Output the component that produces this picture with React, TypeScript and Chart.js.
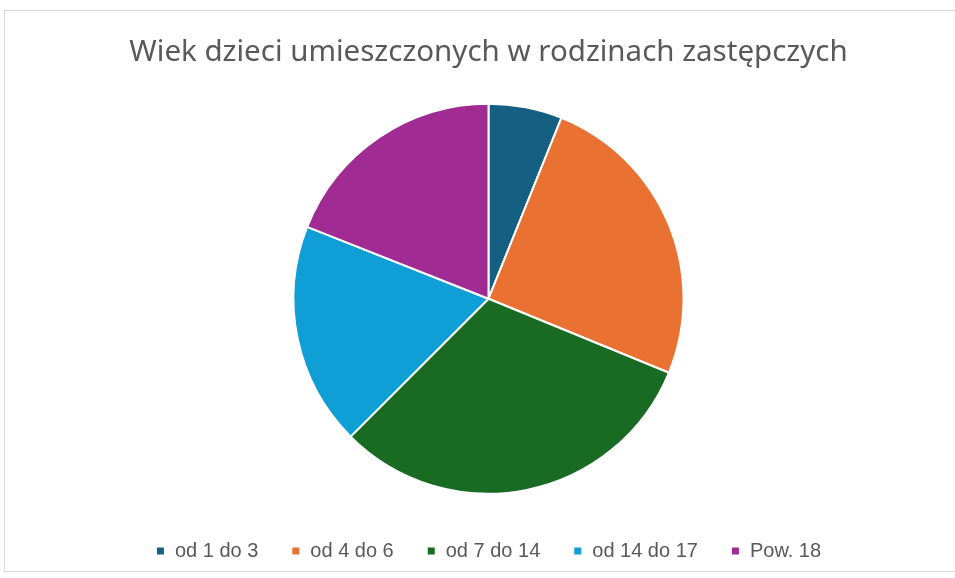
import React, { useEffect, useRef } from "react";
import { Chart, registerables } from "chart.js";

Chart.register(...registerables);

const chartTitle = "Wiek dzieci umieszczonych w rodzinach zastępczych";
const categories = ["od 1 do 3", "od 4 do 6", "od 7 do 14", "od 14 do 17", "Pow. 18"];
const values = [6.1, 25.1, 31.3, 18.5, 19.0];
const colors = ["#156082", "#E97132", "#196B24", "#0F9ED5", "#A02B93"];

export default function App() {
  const ref = useRef<HTMLCanvasElement | null>(null);
  useEffect(() => {
    if (!ref.current) return;
    const chart = new Chart(ref.current, {
      type: "pie",
      data: {
        labels: categories,
        datasets: [
          {
            data: values,
            backgroundColor: colors,
            borderColor: "#ffffff",
            borderWidth: 2,
            radius: 195,
          },
        ],
      },
      options: {
        animation: false,
        responsive: false,
        maintainAspectRatio: false,
        layout: { padding: { left: 22, right: 0, top: 0, bottom: 7 } },
        plugins: {
          tooltip: { enabled: false },
          title: {
            display: true,
            text: chartTitle,
            color: "#595959",
            font: { family: "Noto Sans", size: 29.5, weight: "normal" },
            padding: { top: 35, bottom: 19 },
          },
          legend: {
            position: "bottom",
            labels: {
              boxWidth: 9,
              boxHeight: 9,
              padding: 33,
              color: "#595959",
              font: { family: "Liberation Sans", size: 20 },
            },
          },
        },
      },
    });
    return () => chart.destroy();
  }, []);
  return (
    <div style={{ position: "absolute", left: 0, top: 0, width: 955, height: 578, overflow: "hidden", background: "#fff" }}>
      <div
        style={{
          position: "absolute",
          left: 4,
          top: 10,
          width: 960,
          height: 562,
          border: "1px solid #d9d9d9",
          boxSizing: "border-box",
        }}
      />
      <canvas ref={ref} width={955} height={578} style={{ position: "absolute", left: 0, top: 0 }} />
    </div>
  );
}
